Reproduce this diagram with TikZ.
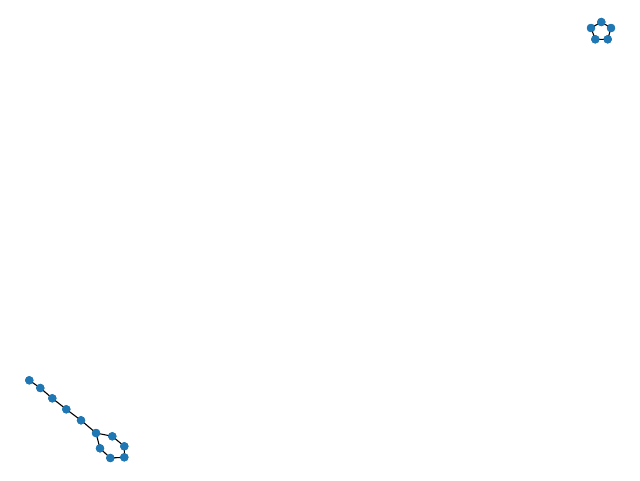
\documentclass[tikz,border=0pt]{standalone}
\definecolor{nodeblue}{HTML}{1F77B4}
\begin{document}
\begin{tikzpicture}[x=1pt,y=-1pt,
  vert/.style={circle,fill=nodeblue,inner sep=0pt,minimum size=8.4pt},
  edge/.style={draw=black,line width=1.1pt}]
\useasboundingbox (0,0) rectangle (640,480);
% pentagon
\node[vert] (p1) at (601.3,22) {};
\node[vert] (p2) at (591,28) {};
\node[vert] (p3) at (611,28) {};
\node[vert] (p4) at (595.3,39.3) {};
\node[vert] (p5) at (607.7,39.3) {};
% chain with ring
\node[vert] (c1) at (29.3,380.3) {};
\node[vert] (c2) at (40.3,388) {};
\node[vert] (c3) at (52.3,398.3) {};
\node[vert] (c4) at (66.3,409.3) {};
\node[vert] (c5) at (81,420.3) {};
\node[vert] (c6) at (96,433) {};
\node[vert] (c7) at (112.3,436.3) {};
\node[vert] (c8) at (124.3,446.3) {};
\node[vert] (c9) at (124.3,457.3) {};
\node[vert] (c10) at (110.3,458) {};
\node[vert] (c11) at (100,448.3) {};
\begin{scope}[on background layer/.style={}]
\end{scope}
\begin{pgfonlayer}{main}\end{pgfonlayer}
\draw[edge] (p1.center)--(p2.center) (p1.center)--(p3.center) (p2.center)--(p4.center) (p3.center)--(p5.center) (p4.center)--(p5.center);
\draw[edge] (c1.center)--(c2.center)--(c3.center)--(c4.center)--(c5.center)--(c6.center)--(c7.center)--(c8.center)--(c9.center)--(c10.center)--(c11.center)--(c6.center);
\foreach \n in {p1,p2,p3,p4,p5,c1,c2,c3,c4,c5,c6,c7,c8,c9,c10,c11}
  \fill[nodeblue] (\n) circle (4.2pt);
\end{tikzpicture}
\end{document}
